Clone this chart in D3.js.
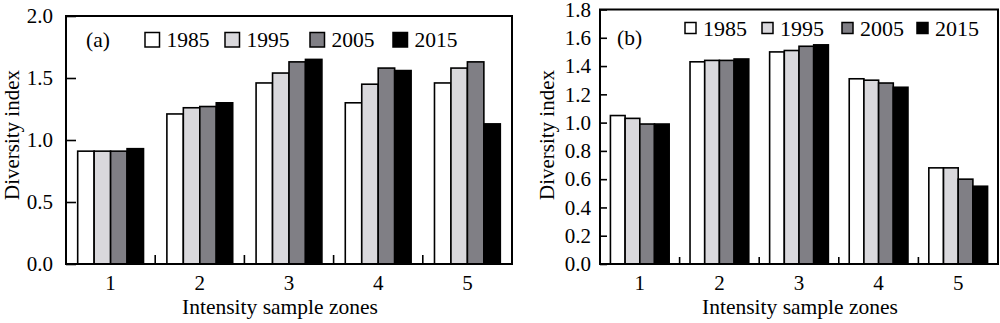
<!DOCTYPE html>
<html><head><meta charset="utf-8">
<script src="https://cdn.jsdelivr.net/npm/d3@7"></script>
<style>body{margin:0;background:#fff}svg{display:block}svg text{font-family:"Liberation Serif","Times New Roman",serif;}</style>
</head><body>
<svg id="chart" width="1000" height="323"></svg>
<script>
const years = ["1985","1995","2005","2015"];
const zones = ["1","2","3","4","5"];
const colors = ["#ffffff","#d9d8dc","#807f85","#000000"];
// Panel (a)
const a1985 = [0.91,1.21,1.46,1.30,1.46];
const a1995 = [0.91,1.26,1.54,1.45,1.58];
const a2005 = [0.91,1.27,1.63,1.58,1.63];
const a2015 = [0.93,1.30,1.65,1.56,1.13];
const aTicks = [0,0.5,1.0,1.5,2.0];
// Panel (b)
const b1985 = [1.05,1.43,1.50,1.31,0.68];
const b1995 = [1.03,1.44,1.51,1.30,0.68];
const b2005 = [0.99,1.44,1.54,1.28,0.60];
const b2015 = [0.99,1.45,1.55,1.25,0.55];
const bTicks = [0,0.2,0.4,0.6,0.8,1.0,1.2,1.4,1.6,1.8];

const svg = d3.select("#chart");
const FONT = "'Liberation Serif', 'Times New Roman', serif";

function panel(cfg){
  const {x0,x1,y0,y1,ymax,ticks,series,label,ytick,xtick,leg,xTitleX} = cfg;
  const g = svg.append("g");
  const x = d3.scaleBand().domain(zones).range([x0,x1]).padding(0);
  const xi = d3.scaleBand().domain(years).range([0,x.bandwidth()]).paddingInner(0).paddingOuter(0.71);
  const y = d3.scaleLinear().domain([0,ymax]).range([y1,y0]);

  years.forEach((yr,i)=>{
    g.append("g").selectAll("rect").data(series[i]).join("rect")
      .attr("x",(d,j)=>x(zones[j])+xi(yr))
      .attr("y",d=>y(d))
      .attr("width",xi.bandwidth())
      .attr("height",d=>y(0)-y(d))
      .attr("fill",colors[i]).attr("stroke","#000").attr("stroke-width",1.6);
  });

  const ya = d3.axisLeft(y).tickValues(ticks).tickFormat(d3.format(".1f")).tickSizeInner(-ytick).tickSizeOuter(0).tickPadding(ytick+cfg.ypad);
  const yg = g.append("g").attr("transform",`translate(${x0},0)`).call(ya);
  yg.select(".domain").remove();
  yg.selectAll("line").attr("stroke","#000").attr("stroke-width",1.6);
  yg.selectAll("text").style("font-family",FONT).attr("font-size",21).attr("fill","#000");

  const xa = d3.axisBottom(x).tickSize(0).tickPadding(11);
  const xg = g.append("g").attr("transform",`translate(0,${y1})`).call(xa);
  xg.select(".domain").remove();
  xg.selectAll("text").style("font-family",FONT).attr("font-size",21).attr("fill","#000");
  g.append("g").selectAll("line").data(zones.slice(1)).join("line")
    .attr("x1",d=>x(d)).attr("x2",d=>x(d)).attr("y1",y1).attr("y2",y1-xtick)
    .attr("stroke","#000").attr("stroke-width",1.6);

  g.append("rect").attr("x",x0).attr("y",y0).attr("width",x1-x0).attr("height",y1-y0)
    .attr("fill","none").attr("stroke","#000").attr("stroke-width",2);

  g.append("text").attr("x",xTitleX).attr("y",314).attr("text-anchor","middle")
    .style("font-family",FONT).attr("font-size",21.5).text("Intensity sample zones");
  g.append("text").attr("transform",`translate(${cfg.yTitleX},135) rotate(-90)`).attr("text-anchor","middle")
    .style("font-family",FONT).attr("font-size",21).text("Diversity index");

  g.append("text").attr("x",label.x).attr("y",label.y).style("font-family",FONT).attr("font-size",21.5).text(label.t);

  const lg = g.append("g");
  years.forEach((yr,i)=>{
    lg.append("rect").attr("x",leg.xs[i]).attr("y",leg.sy).attr("width",leg.s).attr("height",leg.s)
      .attr("fill",colors[i]).attr("stroke","#000").attr("stroke-width",1.5);
    lg.append("text").attr("x",leg.xs[i]+leg.s+leg.gap).attr("y",leg.ty)
      .style("font-family",FONT).attr("font-size",leg.fs).text(yr);
  });
}

panel({x0:66,x1:512,y0:16,y1:264,ymax:2.0,ticks:aTicks,
  series:[a1985,a1995,a2005,a2015],ytick:10,xtick:9,ypad:3,
  label:{x:86,y:47,t:"(a)"},xTitleX:280,yTitleX:19,
  leg:{xs:[145,225,310,393],sy:32.5,s:14.5,gap:7,ty:47,fs:21.5}});

panel({x0:600,x1:998,y0:9.5,y1:264,ymax:1.8,ticks:bTicks,
  series:[b1985,b1995,b2005,b2015],ytick:7,xtick:7,ypad:2,
  label:{x:617,y:45,t:"(b)"},xTitleX:800,yTitleX:554,
  leg:{xs:[685,762,842,917],sy:22.5,s:11,gap:7,ty:36,fs:22}});
</script>
</body></html>
